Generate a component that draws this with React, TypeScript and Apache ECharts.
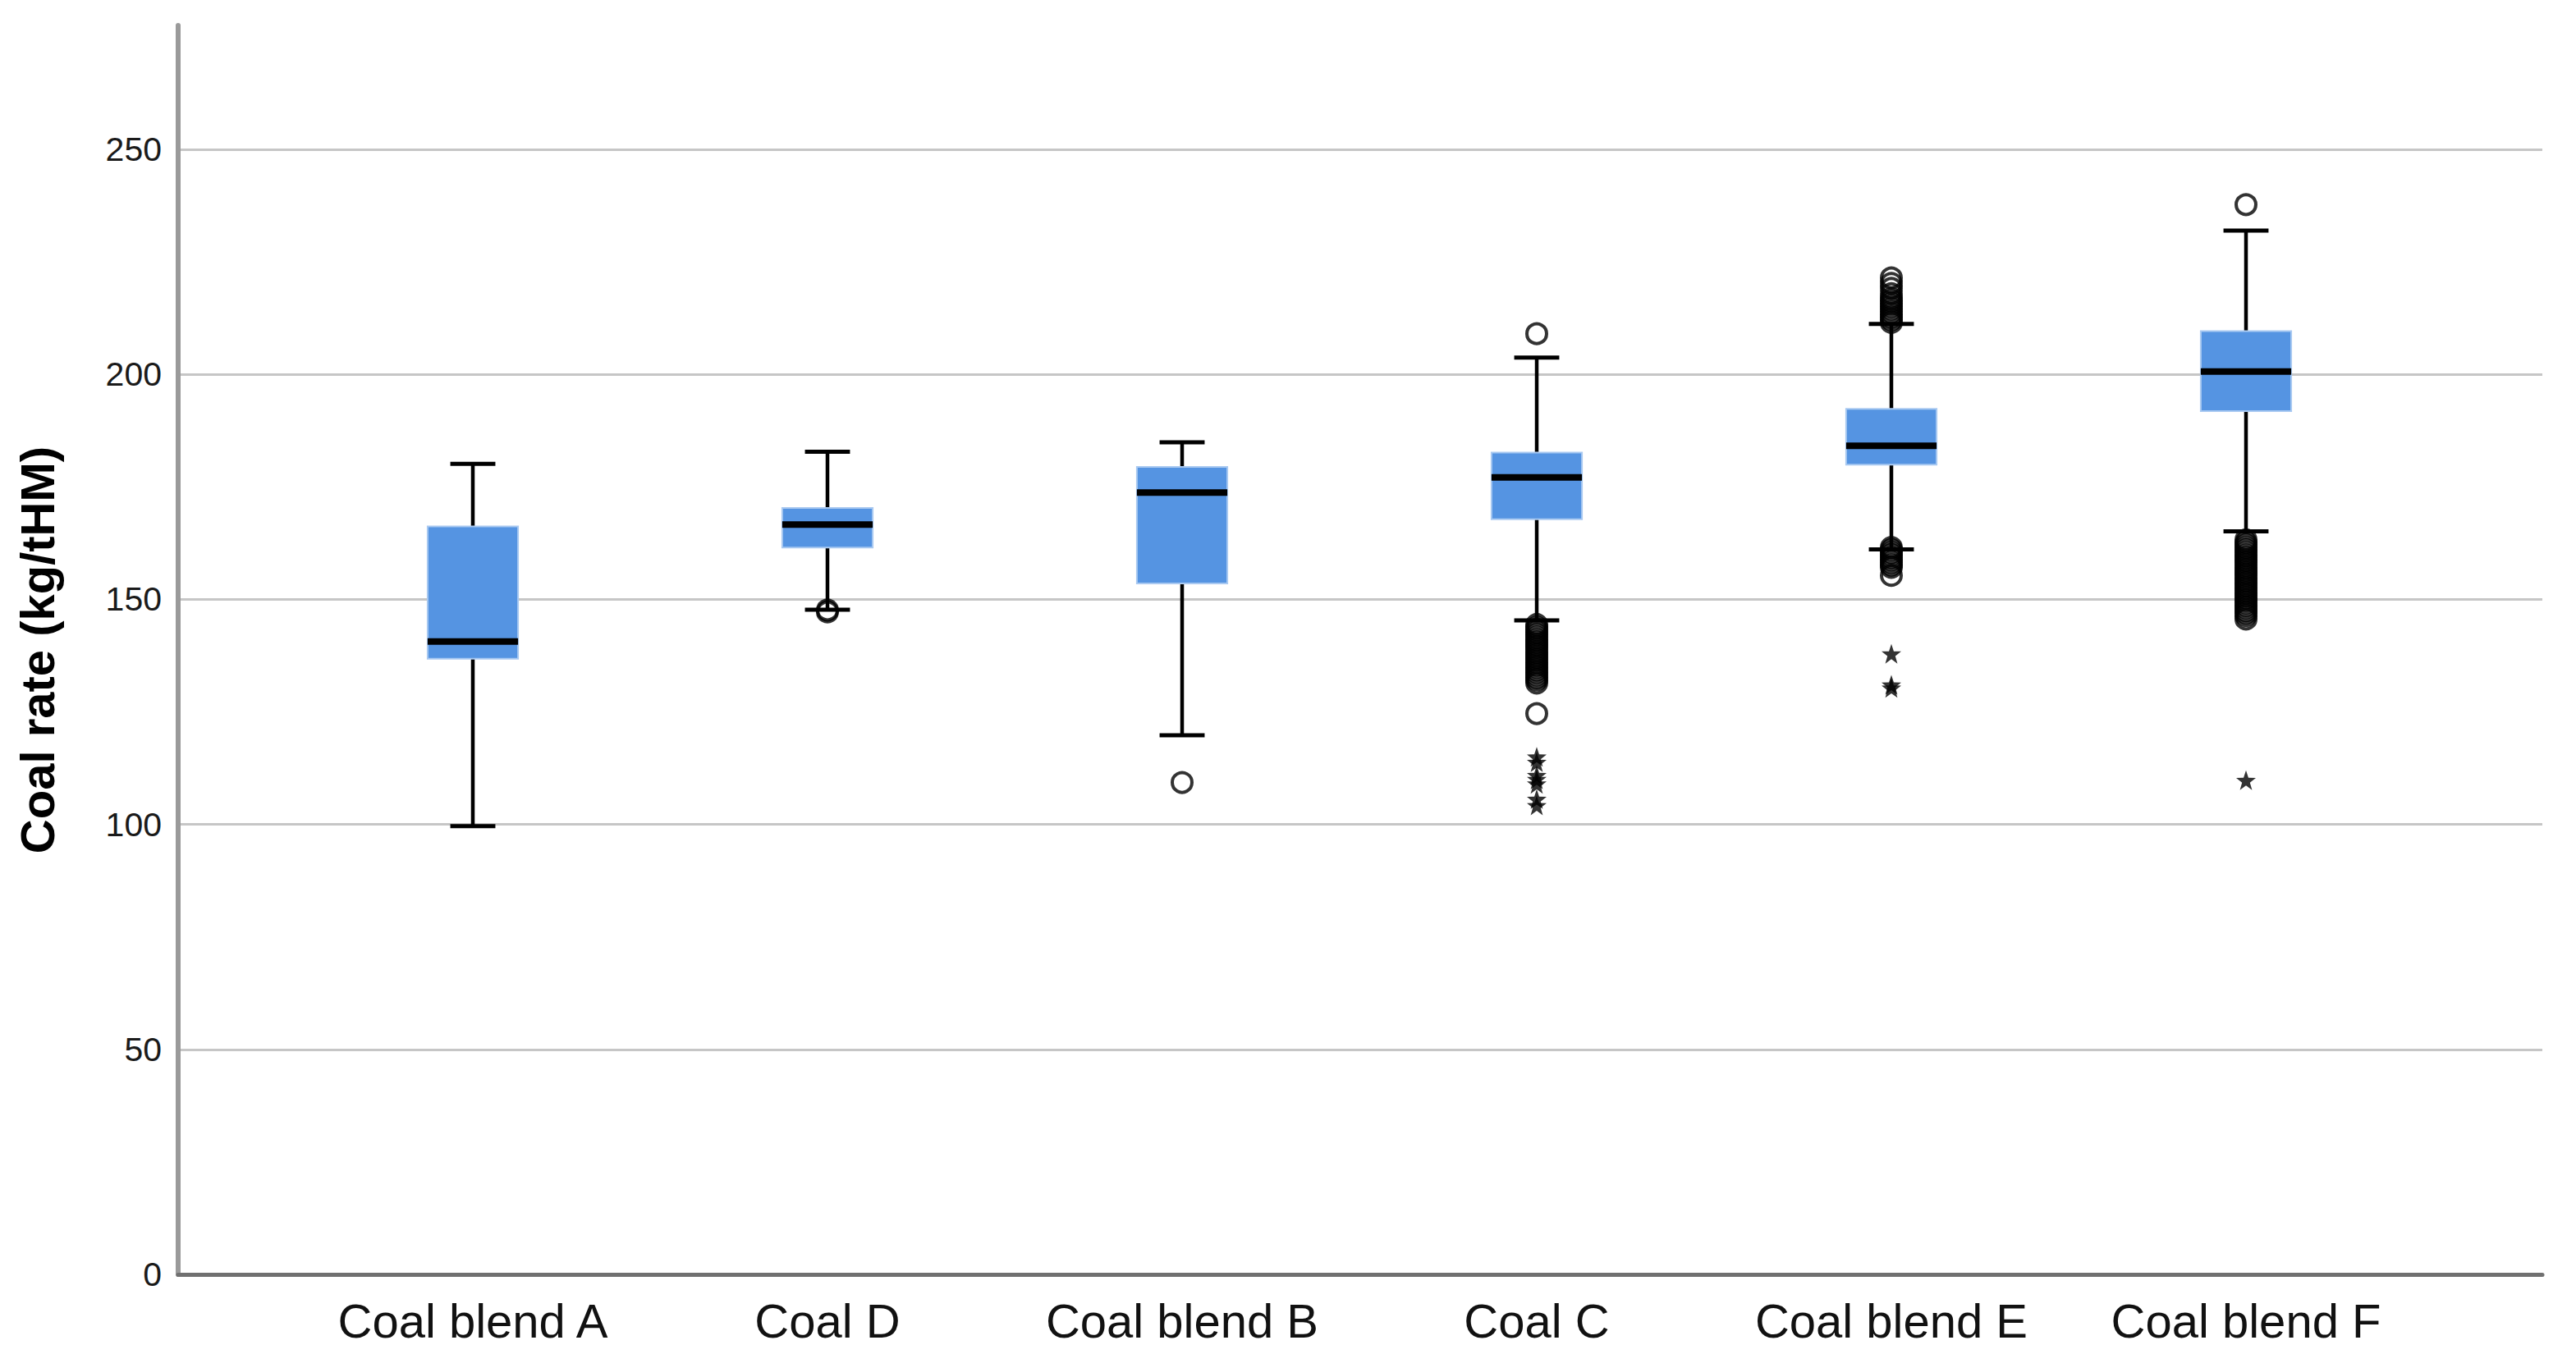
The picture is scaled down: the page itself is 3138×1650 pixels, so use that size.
import React, { useEffect, useRef } from 'react';
import * as echarts from 'echarts';

const categories = ['Coal blend A', 'Coal D', 'Coal blend B', 'Coal C', 'Coal blend E', 'Coal blend F'];
const yTicks = [0, 50, 100, 150, 200, 250];

const lowWhisker = [99.6, 147.7, 119.8, 145.3, 161.1, 165.1];
const q1 = [136.8, 161.5, 153.5, 167.8, 179.9, 191.8];
const median = [140.6, 166.6, 173.7, 177.1, 184.1, 200.6];
const q3 = [166.2, 170.3, 179.4, 182.6, 192.3, 209.6];
const highWhisker = [180.1, 182.8, 184.9, 203.7, 211.2, 231.9];

// outliers (circles) per category
const outA: number[] = [];
const outD = [147.6, 147.2];
const outB = [109.3];
const outC = [209.0, 144.4, 143.8, 143.3, 142.7, 142.2, 141.6, 141.0, 140.5, 139.9, 139.4, 138.8, 138.2, 137.7, 137.1, 136.6, 136.0, 135.4, 134.9, 134.3, 133.8, 133.2, 132.6, 132.1, 131.4, 124.6];
const outE = [221.4, 220.2, 219.1, 217.9, 216.9, 216.3, 215.7, 215.1, 214.5, 213.9, 213.3, 212.7, 212.1, 211.5, 161.5, 161.0, 160.4, 159.9, 159.3, 158.8, 158.2, 157.6, 157.1, 155.3];
const outF = [237.7, 163.2, 162.6, 162.1, 161.5, 161.0, 160.4, 159.8, 159.3, 158.7, 158.2, 157.6, 157.0, 156.5, 155.9, 155.4, 154.8, 154.2, 153.7, 153.1, 152.6, 152.0, 151.4, 150.9, 150.3, 149.8, 149.2, 148.6, 148.1, 147.5, 147.0, 146.4, 145.6];

// extreme values (stars) per category
const starA: number[] = [];
const starD: number[] = [];
const starB: number[] = [];
const starC = [115.0, 113.8, 110.9, 110.0, 109.0, 105.6, 104.2];
const starE = [137.9, 131.0, 130.3];
const starF = [109.8];

const outliers = [outA, outD, outB, outC, outE, outF];
const stars = [starA, starD, starB, starC, starE, starF];

const STAR_PATH = 'path://M0,-10L2.35,-3.24L9.51,-3.09L3.8,1.24L5.88,8.09L0,4L-5.88,8.09L-3.8,1.24L-9.51,-3.09L-2.35,-3.24Z';
const FONT = '"Liberation Sans", Arial, sans-serif';

export default function App() {
  const ref = useRef<HTMLDivElement>(null);
  useEffect(() => {
    const chart = echarts.init(ref.current!, null, { renderer: 'svg' });
    const boxData = categories.map((_, i) => [i, lowWhisker[i], q1[i], median[i], q3[i], highWhisker[i]]);
    const circleData: number[][] = [];
    outliers.forEach((arr, i) => arr.forEach((v) => circleData.push([i, v])));
    const starData: number[][] = [];
    stars.forEach((arr, i) => arr.forEach((v) => starData.push([i, v])));
    const yMax = 277.5;

    chart.setOption({
      animation: false,
      backgroundColor: '#ffffff',
      grid: [
        { left: 217, right: 41, top: 31, bottom: 97 },
        { left: 360, right: 186, top: 31, bottom: 97 },
      ],
      xAxis: [
        {
          gridIndex: 0,
          type: 'value',
          min: 0,
          max: 1,
          axisLine: { show: true, onZero: false, lineStyle: { color: '#707070', width: 5 } },
          axisTick: { show: false },
          axisLabel: { show: false },
          splitLine: { show: false },
        },
        {
          gridIndex: 1,
          type: 'category',
          data: categories,
          boundaryGap: true,
          axisLine: { show: false },
          axisTick: { show: false },
          axisLabel: { show: true, fontSize: 58, color: '#111', fontFamily: FONT, margin: 27, interval: 0 },
          splitLine: { show: false },
        },
      ],
      yAxis: [
        {
          gridIndex: 0,
          type: 'value',
          min: 0,
          max: yMax,
          interval: 50,
          axisLine: { show: true, lineStyle: { color: '#9a9a9a', width: 6 } },
          axisTick: { show: false },
          axisLabel: {
            show: true,
            fontSize: 41,
            color: '#1a1a1a',
            fontFamily: FONT,
            margin: 20,
            showMaxLabel: false,
            formatter: (v: number) => (yTicks.includes(v) ? String(v) : ''),
          },
          splitLine: { show: true, showMaxLine: false, showMinLine: false, lineStyle: { color: '#c6c6c6', width: 3 } },
          name: 'Coal rate (kg/tHM)',
          nameLocation: 'middle',
          nameGap: 143,
          nameTextStyle: { fontSize: 58, fontWeight: 'bold', color: '#000', fontFamily: FONT },
        },
        {
          gridIndex: 1,
          type: 'value',
          min: 0,
          max: yMax,
          interval: 50,
          show: false,
        },
      ],
      series: [
        {
          type: 'custom',
          xAxisIndex: 1,
          yAxisIndex: 1,
          data: boxData,
          encode: { x: 0, y: [1, 2, 3, 4, 5] },
          renderItem: (params: any, api: any) => {
            const i = api.value(0);
            const lo = api.coord([i, api.value(1)]);
            const b1 = api.coord([i, api.value(2)]);
            const md = api.coord([i, api.value(3)]);
            const b3 = api.coord([i, api.value(4)]);
            const hi = api.coord([i, api.value(5)]);
            const band = api.size([1, 0])[0];
            const bw = band * 0.255;
            const cw = band * 0.127;
            const cx = lo[0];
            return {
              type: 'group',
              children: [
                { type: 'line', shape: { x1: cx, y1: hi[1], x2: cx, y2: lo[1] }, style: { stroke: '#000', lineWidth: 4.5 } },
                { type: 'line', shape: { x1: cx - cw / 2, y1: hi[1], x2: cx + cw / 2, y2: hi[1] }, style: { stroke: '#000', lineWidth: 5 } },
                { type: 'line', shape: { x1: cx - cw / 2, y1: lo[1], x2: cx + cw / 2, y2: lo[1] }, style: { stroke: '#000', lineWidth: 5 } },
                {
                  type: 'rect',
                  shape: { x: cx - bw / 2, y: b3[1], width: bw, height: b1[1] - b3[1] },
                  style: { fill: '#5594e2', stroke: '#a9c9f1', lineWidth: 2 },
                },
                { type: 'line', shape: { x1: cx - bw / 2, y1: md[1], x2: cx + bw / 2, y2: md[1] }, style: { stroke: '#000', lineWidth: 8 } },
              ],
            };
          },
          z: 2,
        },
        {
          type: 'scatter',
          xAxisIndex: 1,
          yAxisIndex: 1,
          data: circleData,
          symbol: 'circle',
          symbolSize: 24,
          itemStyle: { color: 'rgba(0,0,0,0)', borderColor: '#000', borderWidth: 4 },
          z: 3,
        },
        {
          type: 'scatter',
          xAxisIndex: 1,
          yAxisIndex: 1,
          data: starData,
          symbol: STAR_PATH,
          symbolSize: 24,
          itemStyle: { color: '#000' },
          z: 3,
        },
      ],
    });
    return () => chart.dispose();
  }, []);
  return <div ref={ref} style={{ position: 'absolute', left: 0, top: 0, width: 3138, height: 1650 }} />;
}
